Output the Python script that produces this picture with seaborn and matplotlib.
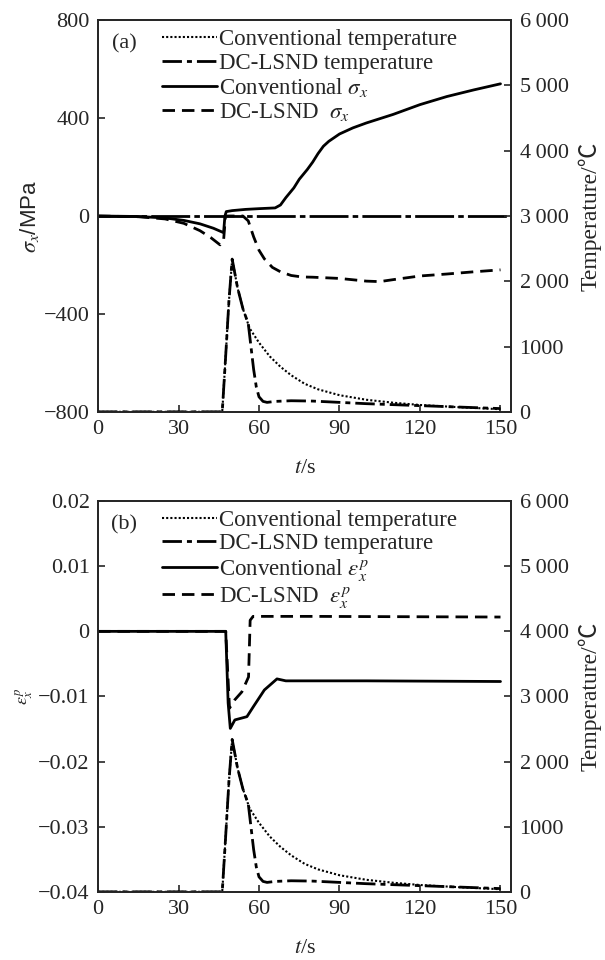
import matplotlib
matplotlib.use('Agg')
import matplotlib.pyplot as plt
import seaborn as sns

# ---- data ----
# temperature curves (shared by both panels)
conv_temp_t = [0, 46.3, 47.5, 48.8, 50, 52, 54, 56.5, 60, 64, 68, 72, 77, 82, 90, 100, 110, 120, 135, 150]
conv_temp = [0, 0, 800, 1700, 2340, 1900, 1580, 1280, 1060, 850, 690, 560, 430, 345, 255, 185, 140, 105, 70, 40]
dc_temp_t = [0, 46.3, 47.5, 48.8, 50, 52, 54, 56, 57, 58, 59, 60, 61.5, 63, 66, 72, 80, 90, 100, 120, 150]
dc_temp = [0, 0, 800, 1700, 2340, 1900, 1580, 1350, 1000, 650, 380, 230, 160, 145, 160, 170, 165, 145, 125, 95, 50]

# panel (a): stress
conv_s_t = [0, 15, 25, 32, 38, 43, 46.8, 47.3, 47.8, 50, 55, 60, 66, 68, 70, 73, 75, 78, 80, 82, 84, 86,
            90, 95, 100, 110, 120, 130, 140, 150]
conv_s = [0, -2, -8, -18, -32, -50, -68, 0, 18, 22, 27, 30, 33, 45, 75, 115, 150, 190, 220, 255, 285, 305,
          335, 360, 380, 415, 455, 488, 515, 540]
dc_s_t = [0, 15, 25, 32, 38, 42, 45.5, 46.8, 47.5, 54, 56, 58, 60, 62, 65, 68, 72, 76, 80, 90, 100, 105,
          110, 120, 130, 140, 150]
dc_s = [0, -3, -12, -30, -60, -88, -118, -100, 0, 0, -20, -85, -140, -175, -210, -228, -243, -249, -250,
        -255, -266, -268, -260, -245, -237, -228, -220]

# panel (b): plastic strain
conv_e_t = [0, 47.6, 48.5, 49.3, 51, 55.5, 58, 62, 66.7, 70, 100, 150]
conv_e = [0, 0, -0.011, -0.0149, -0.0136, -0.0131, -0.0115, -0.009, -0.0073, -0.0076, -0.0076, -0.0077]
dc_e_t = [0, 47.6, 49, 51, 53.6, 56.1, 56.7, 57.8, 80, 150]
dc_e = [0, 0, -0.0118, -0.0105, -0.0093, -0.0070, 0.0017, 0.0023, 0.0023, 0.0022]

t_ticks = [0, 30, 60, 90, 120, 150]
temp_ticks = [0, 1000, 2000, 3000, 4000, 5000, 6000]
temp_labels = ['0', '1000', '2\u2009000', '3\u2009000', '4\u2009000', '5\u2009000', '6\u2009000']
s_ticks = [-800, -400, 0, 400, 800]
e_ticks = [-0.04, -0.03, -0.02, -0.01, 0, 0.01, 0.02]
e_labels = ['\u22120.04', '\u22120.03', '\u22120.02', '\u22120.01', '0', '0.01', '0.02']

sns.set_style('ticks')
plt.rcParams['font.family'] = ['Liberation Serif', 'Noto Sans CJK SC', 'DejaVu Sans']
plt.rcParams['mathtext.fontset'] = 'stix'
plt.rcParams['axes.linewidth'] = 1.3
FS = 16

fig = plt.figure(figsize=(6.05, 9.6), dpi=100)

DOT = (0, (1, 1))
DASHDOT = (0, (7, 1.8, 1.8, 1.8))
DASH = (0, (4.5, 2.5))


def style_axes(ax, ax2):
    ax.set_xlim(0, 154)
    ax.set_xticks(t_ticks)
    ax2.set_ylim(0, 6000)
    ax2.set_yticks(temp_ticks)
    ax2.set_yticklabels(temp_labels)
    for a in (ax, ax2):
        a.tick_params(direction='in', length=5, width=1.2, labelsize=FS, pad=6)
    ax.set_xlabel(r'$t$/s', fontsize=FS, labelpad=14)
    ax2.set_ylabel('Temperature/℃', fontsize=17, labelpad=7)


def draw_temps(ax2):
    sns.lineplot(x=conv_temp_t, y=conv_temp, ax=ax2, color='black', lw=1.5,
                 linestyle=DOT, legend=False)
    h1 = ax2.lines[-1]
    sns.lineplot(x=dc_temp_t, y=dc_temp, ax=ax2, color='black', lw=2.0,
                 linestyle=DASHDOT, legend=False)
    h2 = ax2.lines[-1]
    return h1, h2


def add_legend(ax2, handles, labels):
    ax2.legend(handles, labels, loc='upper left', bbox_to_anchor=(0.155, 0.977),
               frameon=False, fontsize=16.5, handlelength=2.4, handletextpad=0.1,
               labelspacing=0.1, borderpad=0, borderaxespad=0)


# ---- panel (a) ----
ax = fig.add_axes([0.162, 0.571, 0.683, 0.408])
ax2 = ax.twinx()
ax.axhline(0, color='black', lw=2.0, linestyle=(0, (14, 1.5, 2, 1.5)))
sns.lineplot(x=conv_s_t, y=conv_s, ax=ax, color='black', lw=2.0, legend=False)
h3 = ax.lines[-1]
sns.lineplot(x=dc_s_t, y=dc_s, ax=ax, color='black', lw=2.0, linestyle=DASH, legend=False)
h4 = ax.lines[-1]
h1, h2 = draw_temps(ax2)
ax.set_ylim(-800, 800)
ax.set_yticks(s_ticks)
style_axes(ax, ax2)
ax.set_ylabel(r'$\sigma_x$/MPa', fontsize=FS, family='Liberation Sans', labelpad=2)
add_legend(ax2, [h1, h2, h3, h4],
           ['Conventional temperature', 'DC-LSND temperature',
            r'Conventional $\sigma_x$', r'DC-LSND  $\sigma_x$'])
ax.text(0.063, 0.94, '(a)', transform=ax.transAxes, fontsize=FS, ha='center', va='center')

# ---- panel (b) ----
bx = fig.add_axes([0.162, 0.071, 0.683, 0.407])
bx2 = bx.twinx()
sns.lineplot(x=conv_e_t, y=conv_e, ax=bx, color='black', lw=2.0, legend=False)
g3 = bx.lines[-1]
sns.lineplot(x=dc_e_t, y=dc_e, ax=bx, color='black', lw=2.0, linestyle=DASH, legend=False)
g4 = bx.lines[-1]
g1, g2 = draw_temps(bx2)
bx.set_ylim(-0.04, 0.02)
bx.set_yticks(e_ticks)
bx.set_yticklabels(e_labels)
style_axes(bx, bx2)
bx.set_ylabel(r'$\varepsilon_x^p$', fontsize=13, labelpad=2)
add_legend(bx2, [g1, g2, g3, g4],
           ['Conventional temperature', 'DC-LSND temperature',
            r'Conventional $\varepsilon_x^p$', r'DC-LSND  $\varepsilon_x^p$'])
bx.text(0.063, 0.94, '(b)', transform=bx.transAxes, fontsize=FS, ha='center', va='center')

fig.savefig('out.png', dpi=100)
